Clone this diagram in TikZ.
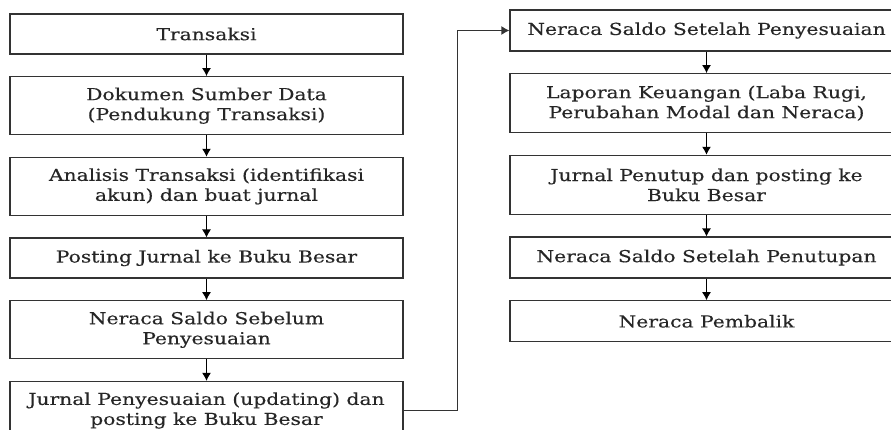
\documentclass[tikz,border=0pt]{standalone}
\usepackage{fontspec}
\setmainfont{DejaVu Serif}[FakeStretch=1.23, FakeBold=0.3]
\usetikzlibrary{positioning,arrows.meta}

\begin{document}
\begin{tikzpicture}[x=1pt, y=-1pt, node distance=21.5pt, line width=1.2pt,
  >={Latex[length=8pt,width=9pt]},
  box/.style={draw=black!80, minimum width=393pt, minimum height=40pt,
    inner sep=0pt, align=center, text=black!85, font=\fontsize{16.5}{20}\selectfont},
  tall/.style={box, minimum height=58pt}]
        \clip (0,0) rectangle (891,430);
        \node [box] (1) at (206.5,34) {Transaksi};
        \node [tall, below=of 1] (2) {Dokumen Sumber Data\\(Pendukung Transaksi)};
        \node [tall, below=of 2] (3) {Analisis Transaksi (identifikasi\\akun) dan buat jurnal};
        \node [box, below=of 3] (4) {Posting Jurnal ke Buku Besar};
        \node [tall, below=of 4] (5) {Neraca Saldo Sebelum\\Penyesuaian};
        \node [tall, below=of 5] (6) {Jurnal Penyesuaian (updating) dan\\posting ke Buku Besar};
        \node [box, minimum height=41pt] (7) at (706.5,30.5) {Neraca Saldo Setelah Penyesuaian};
        \node [tall, minimum height=59pt, below=of 7] (8) {Laporan Keuangan (Laba Rugi,\\Perubahan Modal dan Neraca)};
        \node [tall, minimum height=59pt, below=of 8] (9) {Jurnal Penutup dan posting ke\\Buku Besar};
        \node [box, minimum height=41pt, below=of 9] (10) {Neraca Saldo Setelah Penutupan};
        \node [box, minimum height=41pt, below=of 10] (11) {Neraca Pembalik};
        \draw[->] (1) -- (2);
        \draw[->] (2) -- (3);
        \draw[->] (3) -- (4);
        \draw[->] (4) -- (5);
        \draw[->] (5) -- (6);
        \draw[->, black!80] (6.east) -- ++(54,0) |- (7.west);
        \draw[->] (7) -- (8);
        \draw[->] (8) -- (9);
        \draw[->] (9) -- (10);
        \draw[->] (10) -- (11);
\end{tikzpicture}
\end{document}
